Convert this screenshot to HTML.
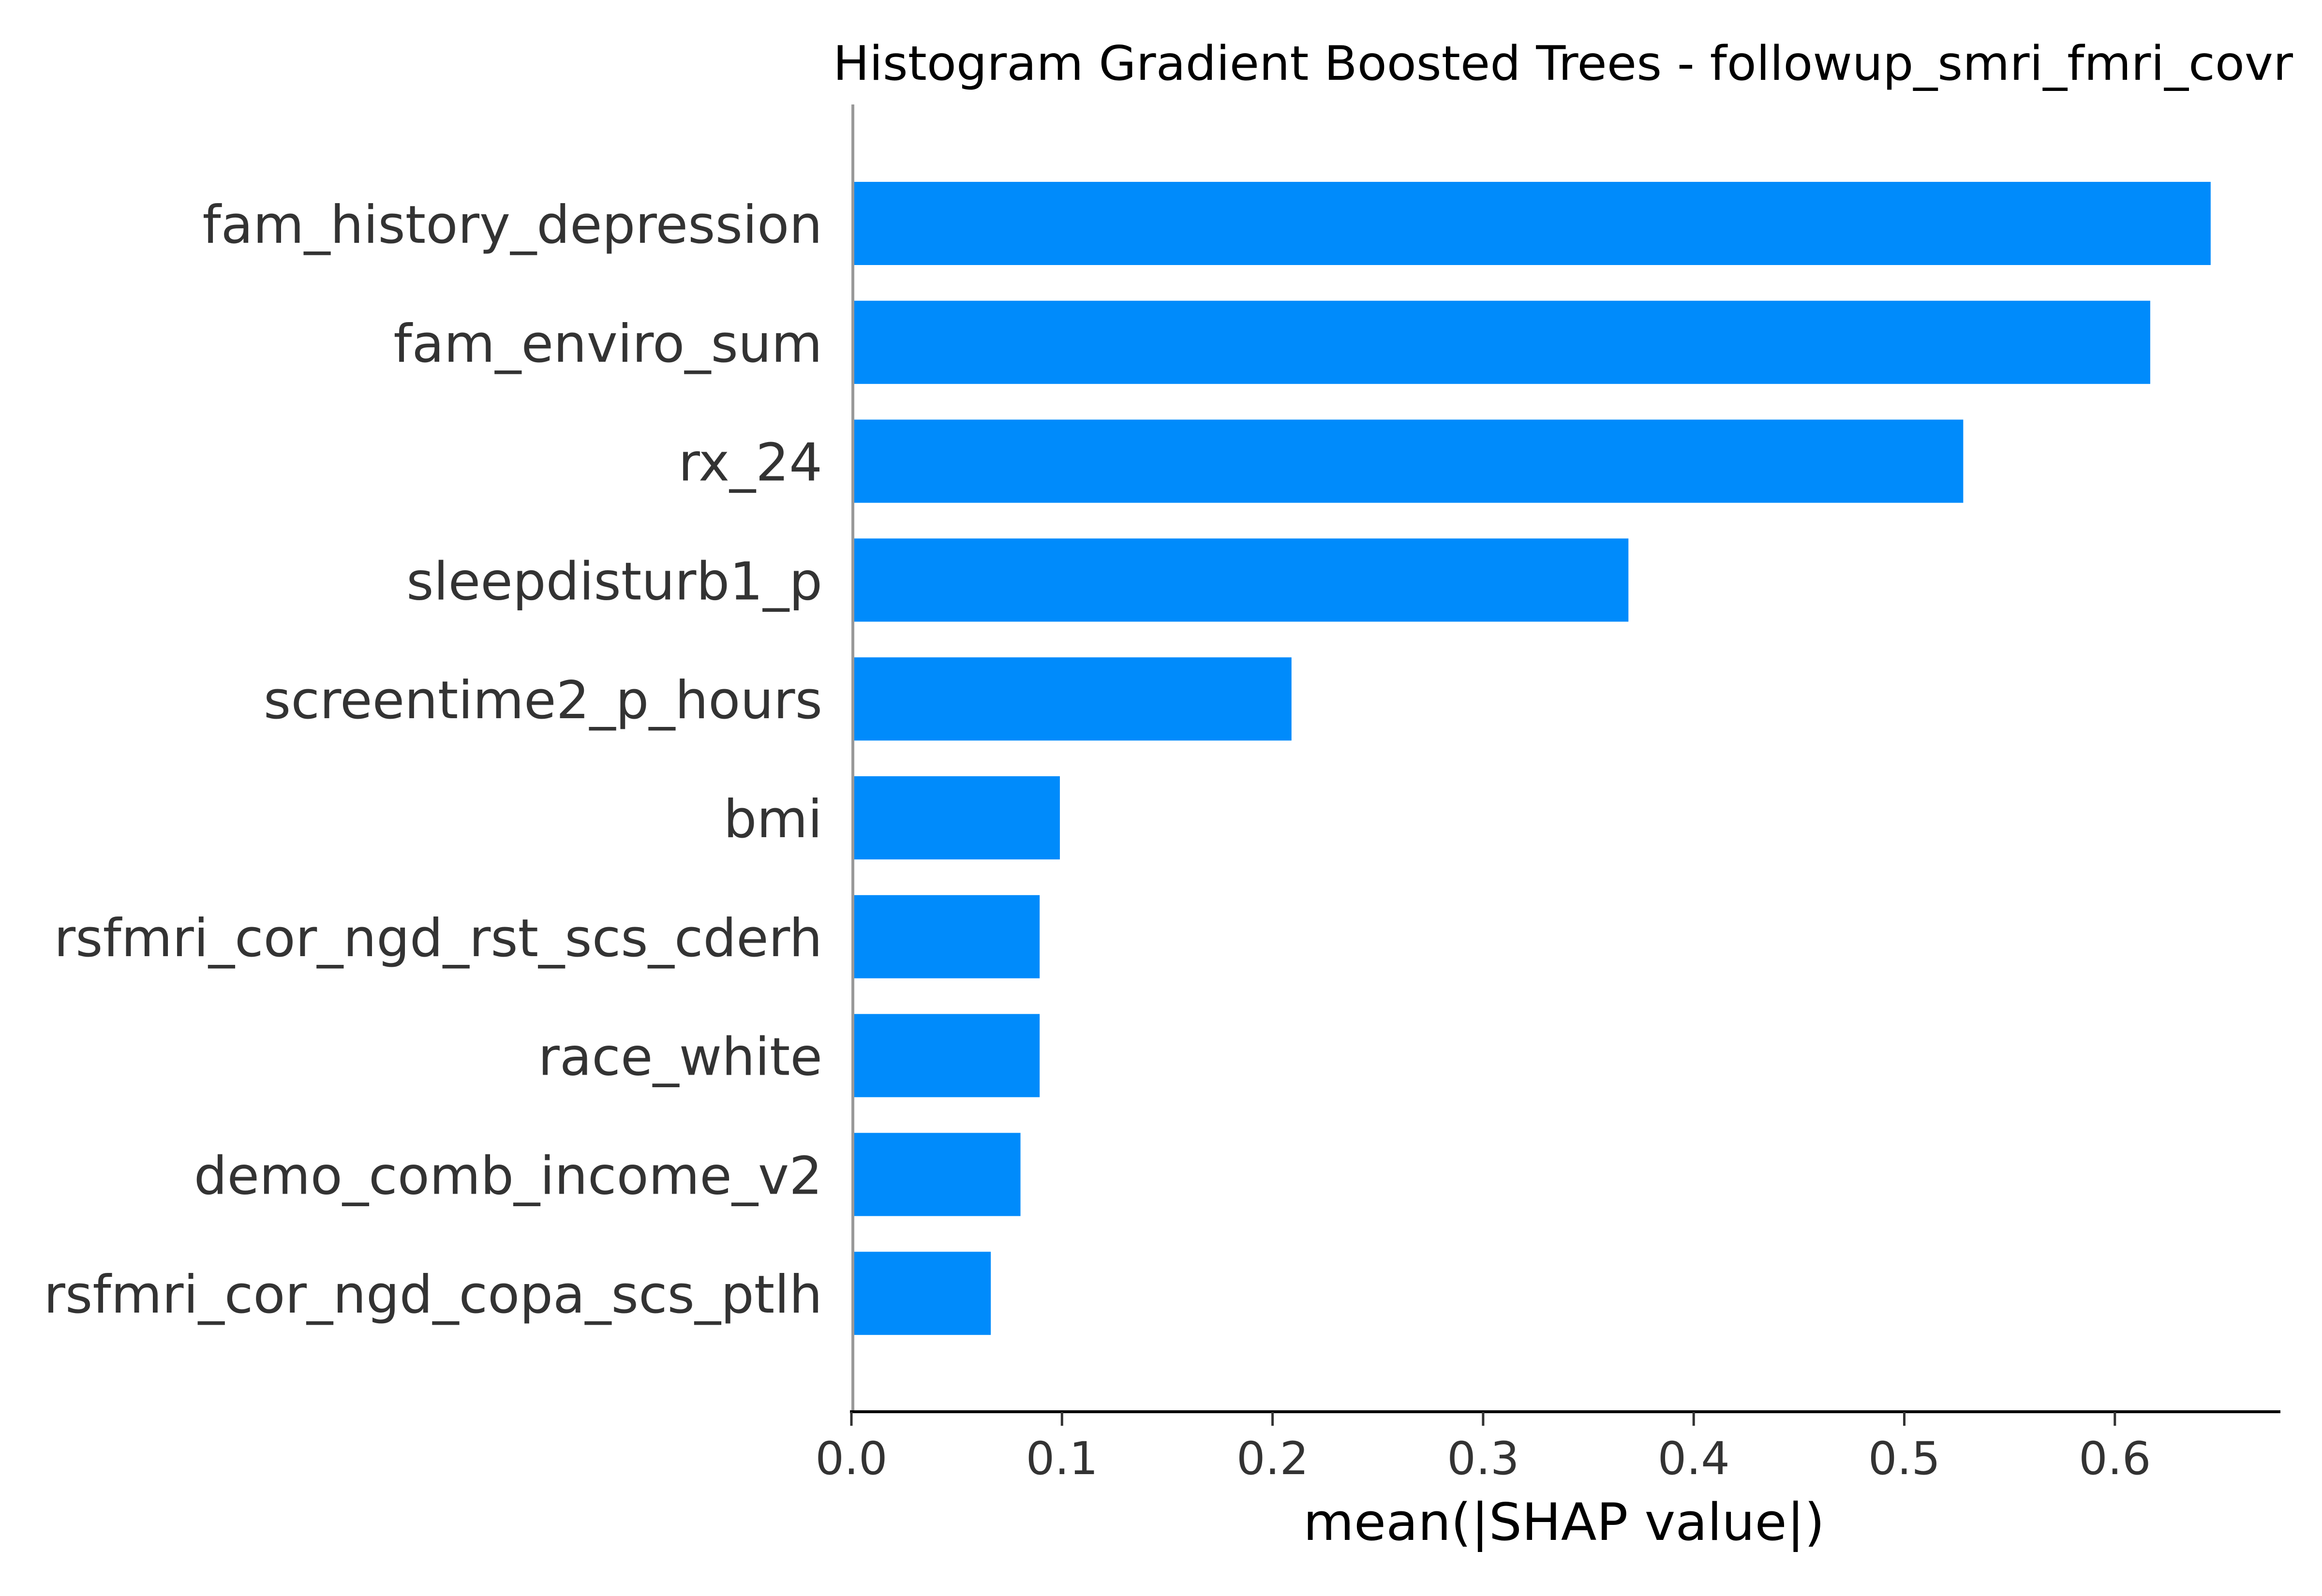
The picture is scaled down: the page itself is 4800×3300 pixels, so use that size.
<!DOCTYPE html>
<html><head><meta charset="utf-8"><style>html,body{margin:0;padding:0;background:#fff}svg{display:block}</style></head>
<body>
<svg id="chart" width="4800" height="3300" xmlns="http://www.w3.org/2000/svg" font-family="'DejaVu Sans','Liberation Sans',sans-serif">
<rect width="4800" height="3300" fill="#fff"/>
<text x="1722" y="165" font-size="98" fill="#000" textLength="3018" lengthAdjust="spacingAndGlyphs">Histogram Gradient Boosted Trees - followup_smri_fmri_covr</text>
<g id="bars"></g>
<g id="ylabels"></g>
<line x1="1763" y1="216" x2="1763" y2="2919" stroke="#999" stroke-width="6"/>
<line x1="1757" y1="2919" x2="4714" y2="2919" stroke="#000" stroke-width="6"/>
<g id="xticks"></g>
<text x="2694" y="3184" font-size="106" fill="#000" textLength="1078" lengthAdjust="spacingAndGlyphs">mean(|SHAP value|)</text>
</svg>
<script>
const features = ["fam_history_depression","fam_enviro_sum","rx_24","sleepdisturb1_p","screentime2_p_hours","bmi","rsfmri_cor_ngd_rst_scs_cderh","race_white","demo_comb_income_v2","rsfmri_cor_ngd_copa_scs_ptlh"];
const values = [0.6455,0.6168,0.528,0.369,0.209,0.099,0.0894,0.0894,0.0803,0.0662];
const tickValues = [0,0.1,0.2,0.3,0.4,0.5,0.6];
const tickLabels = ["0.0","0.1","0.2","0.3","0.4","0.5","0.6"];
const NS="http://www.w3.org/2000/svg";
const x0=1760, pxPerUnit=4353;
function xs(v){return x0+v*pxPerUnit;}
function yc(i){return 462+i*245.8;}
const bh=172;
const bars=document.getElementById('bars'), yl=document.getElementById('ylabels'), xt=document.getElementById('xticks');
features.forEach((f,i)=>{
  const r=document.createElementNS(NS,'rect');
  r.setAttribute('x',xs(0));r.setAttribute('y',yc(i)-bh/2);
  r.setAttribute('width',xs(values[i])-xs(0));r.setAttribute('height',bh);
  r.setAttribute('fill','#008bfb');
  
  
  bars.appendChild(r);
  const t=document.createElementNS(NS,'text');
  t.setAttribute('x',1700);t.setAttribute('y',yc(i)+40);
  t.setAttribute('text-anchor','end');t.setAttribute('font-size','108.3');t.setAttribute('fill','#333');
  t.textContent=f;
  
  
  yl.appendChild(t);
});
tickValues.forEach((v,i)=>{
  const l=document.createElementNS(NS,'line');
  l.setAttribute('x1',xs(v));l.setAttribute('x2',xs(v));l.setAttribute('y1',2919);l.setAttribute('y2',2948);
  l.setAttribute('stroke','#333');l.setAttribute('stroke-width','5');
  
  
  xt.appendChild(l);
  const t=document.createElementNS(NS,'text');
  t.setAttribute('x',xs(v));t.setAttribute('y',3048);
  t.setAttribute('text-anchor','middle');t.setAttribute('font-size','94');t.setAttribute('fill','#333');
  t.textContent=tickLabels[i];
  
  
  xt.appendChild(t);
});
</script>
</body></html>
